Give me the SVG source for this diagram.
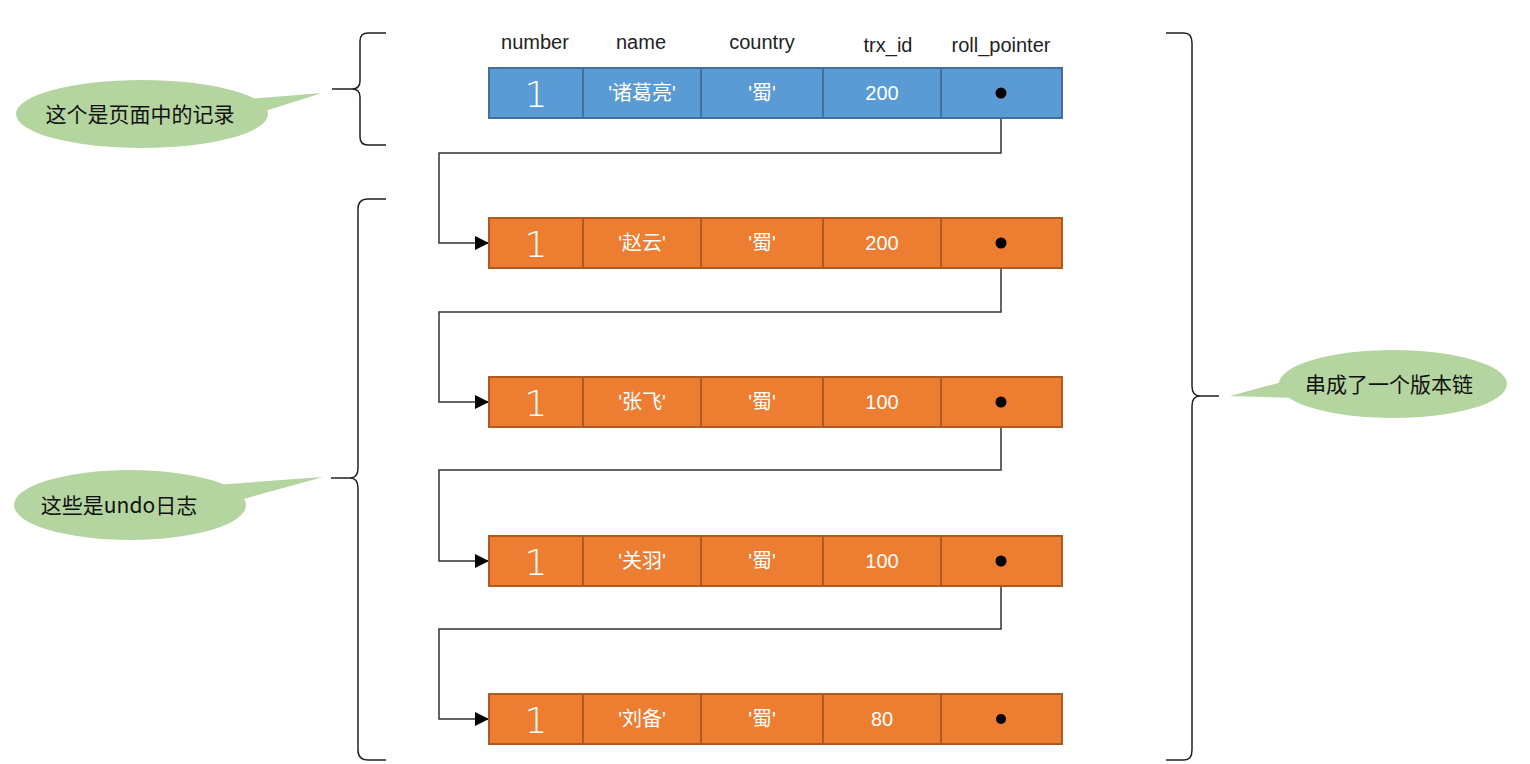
<svg xmlns="http://www.w3.org/2000/svg" width="1530" height="764" viewBox="0 0 1530 764">
<style>
.hdr{font-family:"Liberation Sans","Noto Sans CJK SC",sans-serif;font-size:20px;fill:#222;text-anchor:middle}
.cell{font-family:"Liberation Sans","Noto Sans CJK SC",sans-serif;font-size:20px;fill:#fff;text-anchor:middle}
.big{font-family:"DejaVu Sans","Liberation Sans",sans-serif;font-size:36px;font-weight:200;fill:#fff;text-anchor:middle}
.blue{fill:#5B9BD5;stroke:#41719C;stroke-width:2}
.org{fill:#ED7D31;stroke:#AE5A21;stroke-width:2}
.conn{fill:none;stroke:#333;stroke-width:1.5}
.brace{fill:none;stroke:#222;stroke-width:1.5}
.bub{fill:#B5D5A0}
.btxt{font-family:"Noto Sans CJK SC","Liberation Sans",sans-serif;font-size:21px;fill:#111;text-anchor:middle}
.dot{fill:#000}
</style>
<defs>
<marker id="arr" markerWidth="14" markerHeight="14" refX="13" refY="7" orient="auto" markerUnits="userSpaceOnUse"><path d="M0,0 L14,7 L0,14 z" fill="#000"/></marker>
</defs>
<g id="headers">
<text class="hdr" x="535" y="49">number</text>
<text class="hdr" x="641" y="49">name</text>
<text class="hdr" x="762" y="49">country</text>
<text class="hdr" x="888" y="52">trx_id</text>
<text class="hdr" x="1001" y="52">roll_pointer</text>
</g>
<g id="connectors">
<path class="conn" d="M1001,93 V153 H439 V243 H488" marker-end="url(#arr)"/>
<path class="conn" d="M1001,243 V312 H439 V402 H488" marker-end="url(#arr)"/>
<path class="conn" d="M1001,402 V470 H439 V561 H488" marker-end="url(#arr)"/>
<path class="conn" d="M1001,561 V629 H439 V719 H488" marker-end="url(#arr)"/>
</g>
<g id="row-page">
<rect class="blue" x="489" y="68" width="94" height="50"/><rect class="blue" x="583" y="68" width="118" height="50"/><rect class="blue" x="701" y="68" width="122" height="50"/><rect class="blue" x="823" y="68" width="118" height="50"/><rect class="blue" x="941" y="68" width="121" height="50"/>
<text class="big" x="536" y="107">1</text><text class="cell" x="642" y="100">'诸葛亮'</text><text class="cell" x="762" y="100">'蜀'</text><text class="cell" x="882" y="100">200</text>
<circle class="dot" cx="1001" cy="93" r="5.5"/>
</g>
<g id="row-undo1">
<rect class="org" x="489" y="218" width="94" height="50"/><rect class="org" x="583" y="218" width="118" height="50"/><rect class="org" x="701" y="218" width="122" height="50"/><rect class="org" x="823" y="218" width="118" height="50"/><rect class="org" x="941" y="218" width="121" height="50"/>
<text class="big" x="536" y="257">1</text><text class="cell" x="642" y="250">'赵云'</text><text class="cell" x="762" y="250">'蜀'</text><text class="cell" x="882" y="250">200</text>
<circle class="dot" cx="1001" cy="243" r="5.5"/>
</g>
<g id="row-undo2">
<rect class="org" x="489" y="377" width="94" height="50"/><rect class="org" x="583" y="377" width="118" height="50"/><rect class="org" x="701" y="377" width="122" height="50"/><rect class="org" x="823" y="377" width="118" height="50"/><rect class="org" x="941" y="377" width="121" height="50"/>
<text class="big" x="536" y="416">1</text><text class="cell" x="642" y="409">'张飞'</text><text class="cell" x="762" y="409">'蜀'</text><text class="cell" x="882" y="409">100</text>
<circle class="dot" cx="1001" cy="402" r="5.5"/>
</g>
<g id="row-undo3">
<rect class="org" x="489" y="536" width="94" height="50"/><rect class="org" x="583" y="536" width="118" height="50"/><rect class="org" x="701" y="536" width="122" height="50"/><rect class="org" x="823" y="536" width="118" height="50"/><rect class="org" x="941" y="536" width="121" height="50"/>
<text class="big" x="536" y="575">1</text><text class="cell" x="642" y="568">'关羽'</text><text class="cell" x="762" y="568">'蜀'</text><text class="cell" x="882" y="568">100</text>
<circle class="dot" cx="1001" cy="561" r="5.5"/>
</g>
<g id="row-undo4">
<rect class="org" x="489" y="694" width="94" height="50"/><rect class="org" x="583" y="694" width="118" height="50"/><rect class="org" x="701" y="694" width="122" height="50"/><rect class="org" x="823" y="694" width="118" height="50"/><rect class="org" x="941" y="694" width="121" height="50"/>
<text class="big" x="536" y="733">1</text><text class="cell" x="642" y="726">'刘备'</text><text class="cell" x="762" y="726">'蜀'</text><text class="cell" x="882" y="726">80</text>
<circle class="dot" cx="1001" cy="719" r="5"/>
</g>
<g id="brace-page">
<path class="brace" d="M386,33 H368 Q360,33 360,41 V81 Q360,89 352,89 H332 M352,89 Q360,89 360,97 V137 Q360,145 368,145 H386"/>
</g>
<g id="brace-undo">
<path class="brace" d="M386,199 H368 Q358,199 358,209 V468 Q358,478 350,478 H331 M350,478 Q358,478 358,488 V750 Q358,760 368,760 H386"/>
</g>
<g id="brace-chain">
<path class="brace" d="M1166,33 H1184 Q1192,33 1192,43 V386 Q1192,396 1200,396 H1219 M1200,396 Q1192,396 1192,406 V750 Q1192,760 1184,760 H1166"/>
</g>
<g id="callout-page">
<polygon class="bub" points="322,93 235,100 262,112"/>
<ellipse class="bub" cx="142" cy="114" rx="126" ry="34"/>
<text class="btxt" x="140" y="122">这个是页面中的记录</text>
</g>
<g id="callout-undo">
<polygon class="bub" points="323,477 215,485 240,500"/>
<ellipse class="bub" cx="130" cy="505" rx="116" ry="35"/>
<text class="btxt" x="119" y="513">这些是undo日志</text>
</g>
<g id="callout-chain">
<polygon class="bub" points="1230,396 1300,377 1300,398"/>
<ellipse class="bub" cx="1393" cy="384" rx="114" ry="34"/>
<text class="btxt" x="1389" y="392">串成了一个版本链</text>
</g>
</svg>
